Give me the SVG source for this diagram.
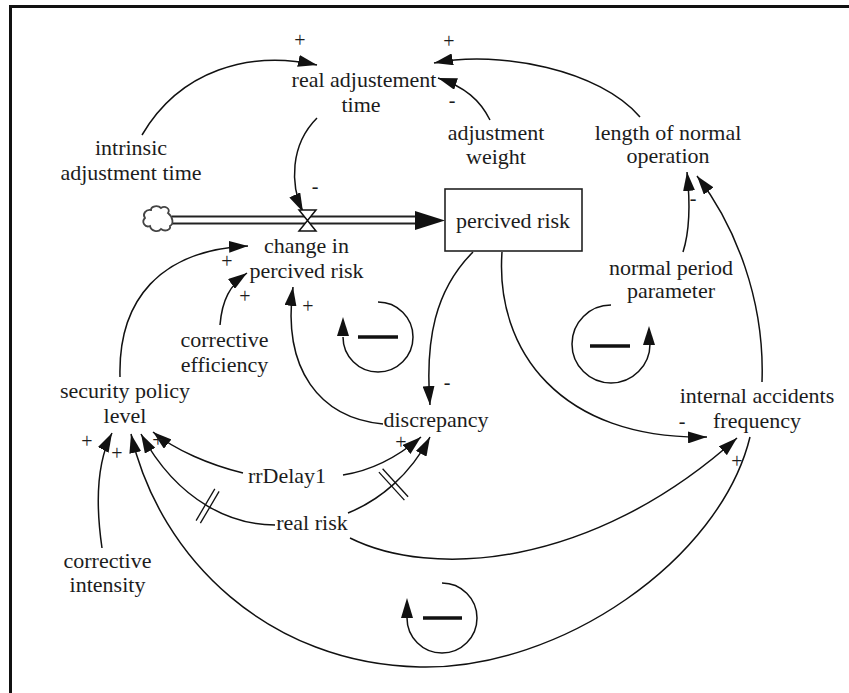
<svg xmlns="http://www.w3.org/2000/svg" width="849" height="693" viewBox="0 0 849 693">
<defs>
<style>
.lbl{font-family:"Liberation Serif","DejaVu Serif",serif;font-size:22px;fill:#1c1c1c;text-anchor:middle}
.sgn{font-family:"Liberation Serif","DejaVu Serif",serif;font-size:20px;fill:#1c1c1c;text-anchor:middle}
.link{fill:none;stroke:#111;stroke-width:1.5;marker-end:url(#head)}
.hash{stroke:#111;stroke-width:1.3}
.loop{fill:none;stroke:#111;stroke-width:1.5}
.bar{stroke:#111;stroke-width:3.5}
.tip{fill:#111}
</style>
<marker id="head" markerUnits="userSpaceOnUse" markerWidth="20" markerHeight="12" refX="19" refY="6" orient="auto">
<path d="M0,0 L19,6 L0,12 z" fill="#111"/>
</marker>
</defs>

<rect width="849" height="693" fill="#fff"/>
<!-- frame -->
<path d="M10.5,693 V6.5 H849" fill="none" stroke="#111" stroke-width="3"/>

<!-- connectors -->
<g id="connectors">
  <path class="link" d="M142,135 C180,70 250,50 317,65"/>
  <path class="link" d="M640,117 C600,70 500,50 434,63"/>
  <path class="link" d="M490,120 C480,100 465,87 438,78"/>
  <path class="link" d="M317,118 C290,145 290,185 303,212"/>
  <path class="link" d="M120,377 C118,300 160,250 248,246"/>
  <path class="link" d="M220,325 C222,300 230,285 247,273"/>
  <path class="link" d="M383,424 C320,418 282,370 293,287"/>
  <path class="link" d="M473,252 C435,290 425,340 430,405"/>
  <path class="link" d="M502,252 C495,350 560,440 707,437"/>
  <path class="link" d="M683,252 C690,230 690,200 687,172"/>
  <path class="link" d="M762,382 C765,300 735,225 697,176"/>
  <path class="link" d="M102,548 C95,500 98,460 112,433"/>
  <path class="link" d="M243,473 C210,465 175,450 153,432"/>
  <path class="link" d="M343,475 C375,470 400,455 421,437"/>
  <path class="link" d="M348,513 C380,500 410,475 430,437"/>
  <path class="link" d="M275,525 C235,525 180,505 141,434"/>
  <path class="link" d="M350,538 C430,578 590,570 737,438"/>
  <path class="link" d="M750,437 C720,560 560,670 420,667 C270,664 160,560 131,434"/>
  <!-- delay marks -->
  <line class="hash" x1="382.6" y1="468.7" x2="408.1" y2="496.7"/>
  <line class="hash" x1="378.9" y1="472.1" x2="404.4" y2="500.1"/>
  <line class="hash" x1="200.4" y1="523.2" x2="219.1" y2="491.4"/>
  <line class="hash" x1="196.1" y1="520.6" x2="214.8" y2="488.8"/>
  <!-- polarity signs -->
  <text class="sgn" x="300" y="47">+</text>
  <text class="sgn" x="449" y="48">+</text>
  <text class="sgn" x="452" y="107">-</text>
  <text class="sgn" x="315" y="193">-</text>
  <text class="sgn" x="227" y="268">+</text>
  <text class="sgn" x="245" y="303">+</text>
  <text class="sgn" x="308" y="313">+</text>
  <text class="sgn" x="447" y="389">-</text>
  <text class="sgn" x="693" y="205">-</text>
  <text class="sgn" x="682" y="428">-</text>
  <text class="sgn" x="87" y="448">+</text>
  <text class="sgn" x="117" y="460">+</text>
  <text class="sgn" x="158" y="447">+</text>
  <text class="sgn" x="401" y="449">+</text>
  <text class="sgn" x="737" y="468">+</text>
</g>

<!-- flow pipe into the stock -->
<g id="flow">
  <line x1="172" y1="220" x2="417" y2="220" stroke="#222" stroke-width="9"/>
  <line x1="170" y1="220" x2="418" y2="220" stroke="#fff" stroke-width="5"/>
  <polygon points="415,211 445,220.5 415,230" fill="#111"/>
</g>

<g id="source-cloud">
  <path d="M168,213 C171,209 165,205 161,208 C158,205 151,206 151,210 C146,209 142,214 145,218 C141,222 145,228 150,226 C151,231 158,233 161,229 C165,232 171,230 170,226 C174,224 173,217 168,213 Z" fill="#fff" stroke="#444" stroke-width="1.8"/>
</g>

<g id="change-in-percived-risk">
  <polygon points="299,210 316,210 299,231 316,231" fill="#fff" stroke="#111" stroke-width="1.5"/>
  <text class="lbl" x="306.5" y="253">change in</text>
  <text class="lbl" x="306.5" y="278">percived risk</text>
</g>

<g id="percived-risk">
  <rect x="445" y="189" width="137" height="62" fill="#fff" stroke="#222" stroke-width="1.6"/>
  <text class="lbl" x="513" y="228">percived risk</text>
</g>

<g id="real-adjustement-time">
  <text class="lbl" x="364" y="87">real adjustement</text>
  <text class="lbl" x="361" y="112">time</text>
</g>

<g id="intrinsic-adjustment-time">
  <text class="lbl" x="131" y="155">intrinsic</text>
  <text class="lbl" x="131" y="180">adjustment time</text>
</g>

<g id="adjustment-weight">
  <text class="lbl" x="496" y="140">adjustment</text>
  <text class="lbl" x="496" y="164">weight</text>
</g>

<g id="length-of-normal-operation">
  <text class="lbl" x="668" y="140">length of normal</text>
  <text class="lbl" x="668" y="163">operation</text>
</g>

<g id="normal-period-parameter">
  <text class="lbl" x="671" y="275">normal period</text>
  <text class="lbl" x="671" y="298">parameter</text>
</g>

<g id="corrective-efficiency">
  <text class="lbl" x="224.5" y="347">corrective</text>
  <text class="lbl" x="224.5" y="372">efficiency</text>
</g>

<g id="security-policy-level">
  <text class="lbl" x="125" y="398">security policy</text>
  <text class="lbl" x="125" y="423">level</text>
</g>

<g id="discrepancy">
  <text class="lbl" x="436" y="427">discrepancy</text>
</g>

<g id="internal-accidents-frequency">
  <text class="lbl" x="757" y="403">internal accidents</text>
  <text class="lbl" x="757" y="428">frequency</text>
</g>

<g id="rrDelay1">
  <text class="lbl" x="287" y="483">rrDelay1</text>
</g>

<g id="real-risk">
  <text class="lbl" x="312" y="530">real risk</text>
</g>

<g id="corrective-intensity">
  <text class="lbl" x="107.5" y="568">corrective</text>
  <text class="lbl" x="107.5" y="592">intensity</text>
</g>

<!-- balancing loop symbols -->
<g id="loop-center">
  <path class="loop" d="M378,302 A35,35 0 1 1 343,337"/>
  <polygon class="tip" points="343,317 337,336 349,336"/>
  <line class="bar" x1="358" y1="337" x2="398" y2="337"/>
</g>
<g id="loop-right">
  <path class="loop" d="M611,305 A39,39 0 1 0 650,344"/>
  <polygon class="tip" points="649,326 643,345 655,345"/>
  <line class="bar" x1="590" y1="346" x2="630" y2="346"/>
</g>
<g id="loop-bottom">
  <path class="loop" d="M442,583 A35,35 0 1 1 407,618"/>
  <polygon class="tip" points="407,598 401,618 413,618"/>
  <line class="bar" x1="423" y1="618" x2="462" y2="618"/>
</g>
</svg>
